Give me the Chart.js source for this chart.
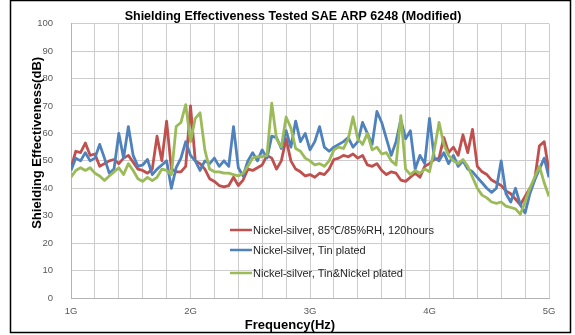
<!DOCTYPE html>
<html>
<head>
<meta charset="utf-8">
<script src="https://cdn.jsdelivr.net/npm/chart.js@4.4.1/dist/chart.umd.min.js"></script>
<style>
  html, body { margin: 0; padding: 0; background: #fff; }
  #wrap { width: 575px; height: 335px; }
</style>
</head>
<body>
<div id="wrap"><canvas id="se"></canvas></div>
<script>
// frequency sweep 1G..5G, one reading every 0.04G
const FREQ_START = 1;
const FREQ_STEP = 0.04;
const xTickLabels = ['1G', '2G', '3G', '4G', '5G'];

const seriesNames = [
    'Nickel-silver, 85\u2103/85%RH, 120hours',
    'Nickel-silver, Tin plated',
    'Nickel-silver, Tin&Nickel plated'
];
const seriesColors = ['#C0504D', '#4F81BD', '#9BBB59'];

// shielding effectiveness in dB
const redSE = [
    47.5, 53.5, 53, 56.5, 52, 52.5, 48, 49, 50, 50.5,
    49, 51, 52, 49.5, 47, 46.5, 45.5, 47, 59, 50,
    64.5, 47, 46, 46, 48, 70, 50, 49, 47, 43.5,
    42.5, 41, 40.5, 41, 44, 41, 43, 47, 46.5, 47.5,
    48.5, 52, 51, 47, 50, 58, 50, 47, 46, 44.5,
    45, 44, 45.5, 45, 47, 50.5, 51, 52, 51.5, 52.5,
    51, 52, 48.5, 48, 49, 46.5, 45, 46, 45.5, 43,
    42.5, 44, 45.5, 44, 48, 49, 50.5, 51, 58.5, 53,
    55, 52, 59.5, 53, 61.5, 48, 46, 45, 43, 42,
    41, 39, 38, 36, 34, 37, 40, 43, 55.5, 57,
    46
];
const blueSE = [
    46.5, 51, 50, 53, 50, 51, 56, 51, 45.5, 47,
    60, 51, 62.5, 52, 48, 48.5, 50.5, 45, 47, 48.5,
    50, 40, 47.5, 51, 57, 52, 50, 46.5, 50, 49,
    51, 48, 50, 48, 62.5, 47.5, 44.5, 50, 53, 50,
    54, 51, 59, 58.5, 54.5, 61, 55, 64.5, 57, 60,
    54, 57, 62.5, 55, 53.5, 55, 56, 57, 58.5, 55,
    57, 64, 60, 56, 68, 64, 58, 52, 57, 65,
    58, 61, 47, 52, 49, 65.5, 51, 50, 53, 49,
    52, 48, 50, 47, 46, 44, 42, 40, 38.5, 40,
    50, 38, 35, 40, 34, 31, 38, 43, 47, 51,
    44
];
const greenSE = [
    44, 46.5, 47.5, 46.5, 47.5, 45.5, 44.5, 42.8, 44.5, 46,
    47.5, 45, 49, 46.5, 43.5, 42.5, 44, 42.8, 44, 47,
    46.5, 45, 62.5, 64, 70.5, 57, 65.5, 67.5, 54, 47,
    46, 46, 45.5, 45.5, 45, 44.5, 45.5, 48, 51, 51.5,
    51.5, 52, 71, 58, 55, 66, 62, 54.5, 53.5, 51,
    50, 48.5, 49, 48, 50, 54, 55, 54.5, 58, 66,
    58, 56, 60, 54, 55, 52.5, 53, 50, 48.5, 66.5,
    47, 45, 46.5, 45.5, 47, 46, 54, 64, 56, 52,
    50, 49, 50.5, 48, 44, 40, 37.5, 36.5, 35, 34.5,
    35, 33.5, 33, 32.5, 30.5, 35, 40, 44, 48, 42,
    37
];

const toPoints = arr => arr.map((v, i) => ({ x: +(FREQ_START + i * FREQ_STEP).toFixed(2), y: v }));

// frame, axis titles and the legend inside the plot
const decorations = {
    id: 'decorations',
    afterDraw(chart) {
        const ctx = chart.ctx;
        const area = chart.chartArea;
        ctx.save();

        ctx.strokeStyle = '#000';
        ctx.lineWidth = 1.5;
        ctx.strokeRect(10.5, 0.5, 560, 332);

        ctx.fillStyle = '#000';
        ctx.font = 'bold 13px "Liberation Sans", Arial, sans-serif';
        ctx.textAlign = 'center';
        ctx.textBaseline = 'middle';
        ctx.fillText('Frequency(Hz)', (area.left + area.right) / 2 - 20, area.bottom + 27);

        ctx.translate(area.left - 34, (area.top + area.bottom) / 2 - 18);
        ctx.rotate(-Math.PI / 2);
        ctx.fillText('Shielding Effectiveness(dB)', 0, 0);
        ctx.setTransform(1, 0, 0, 1, 0, 0);

        const rows = [231, 251, 274];
        ctx.font = '11px "Liberation Sans", Arial, sans-serif';
        ctx.textAlign = 'left';
        seriesNames.forEach((name, i) => {
            ctx.strokeStyle = seriesColors[i];
            ctx.lineWidth = 2.5;
            ctx.beginPath();
            ctx.moveTo(230, rows[i] - 1);
            ctx.lineTo(252, rows[i] - 1);
            ctx.stroke();
            ctx.fillStyle = '#262626';
            ctx.fillText(name, 253, rows[i]);
        });
        ctx.restore();
    }
};

const ctx = document.getElementById('se').getContext('2d');
new Chart(ctx, {
    type: 'line',
    data: {
        datasets: [
            { label: seriesNames[0], data: toPoints(redSE), borderColor: seriesColors[0], order: 3 },
            { label: seriesNames[1], data: toPoints(blueSE), borderColor: seriesColors[1], order: 2 },
            { label: seriesNames[2], data: toPoints(greenSE), borderColor: seriesColors[2], order: 1 }
        ]
    },
    options: {
        responsive: true,
        maintainAspectRatio: false,
        animation: false,
        layout: { padding: { left: 37, right: 26, top: 0, bottom: 0 } },
        elements: {
            line: { borderWidth: 2.8, tension: 0, borderJoinStyle: 'round' },
            point: { radius: 0 }
        },
        plugins: {
            legend: { display: false },
            tooltip: { enabled: false },
            title: {
                display: true,
                text: 'Shielding Effectiveness Tested SAE ARP 6248 (Modified)',
                color: '#000',
                font: { family: '"Liberation Sans", Arial, sans-serif', size: 12.5, weight: 'bold' },
                padding: { top: 7, bottom: 0 }
            }
        },
        scales: {
            x: {
                type: 'linear',
                min: 1,
                max: 5,
                afterFit: s => { s.height = 37; },
                ticks: {
                    stepSize: 0.2,
                    autoSkip: false,
                    maxRotation: 0,
                    padding: 8,
                    color: '#595959',
                    font: { family: '"Liberation Sans", Arial, sans-serif', size: 9.5 },
                    callback: v => {
                        const k = Math.round(v * 5);
                        return k % 5 === 0 ? xTickLabels[k / 5 - 1] : '';
                    }
                },
                grid: { color: '#cdcdcd', lineWidth: 1, drawTicks: false },
                border: { color: '#b3b3b3' }
            },
            y: {
                min: 0,
                max: 100,
                afterFit: s => { s.width = 34; },
                ticks: {
                    stepSize: 10,
                    padding: 18,
                    color: '#595959',
                    font: { family: '"Liberation Sans", Arial, sans-serif', size: 9.5 }
                },
                grid: { color: '#cdcdcd', lineWidth: 1, drawTicks: false },
                border: { color: '#b3b3b3' }
            }
        }
    },
    plugins: [decorations]
});
</script>
</body>
</html>
